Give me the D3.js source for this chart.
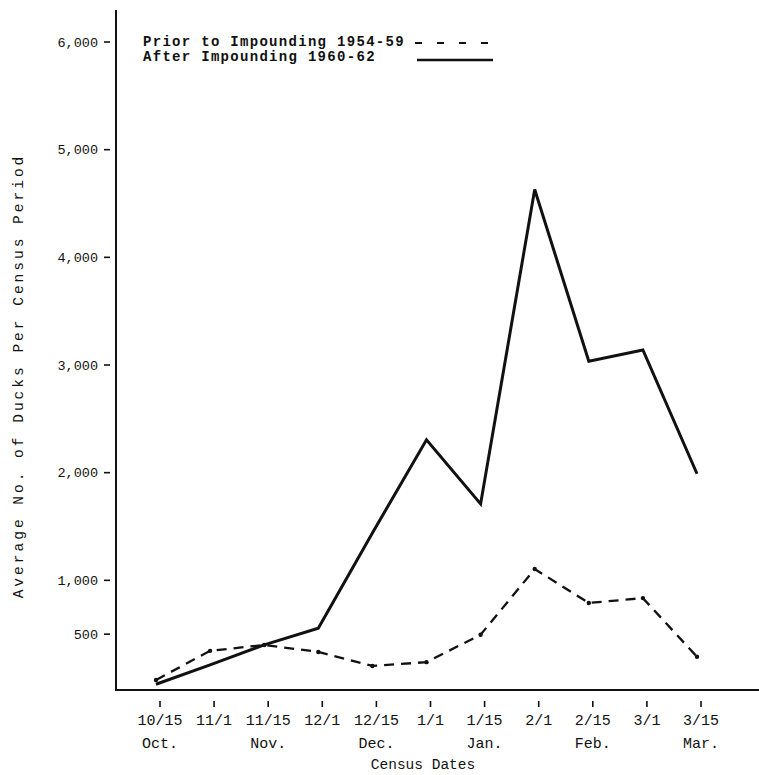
<!DOCTYPE html>
<html>
<head>
<meta charset="utf-8">
<script src="https://cdn.jsdelivr.net/npm/d3@7"></script>
<style>
  html, body { margin: 0; padding: 0; background: #fff; }
  svg { display: block; }
  text { font-family: "Liberation Mono", "Courier New", monospace; fill: #111; }
</style>
</head>
<body>
<svg id="chart" width="759" height="775"></svg>
<script>
// ---- data ----
const dates = ["10/15", "11/1", "11/15", "12/1", "12/15", "1/1", "1/15", "2/1", "2/15", "3/1", "3/15"];
const months = [
  { label: "Oct.", at: "10/15" },
  { label: "Nov.", at: "11/15" },
  { label: "Dec.", at: "12/15" },
  { label: "Jan.", at: "1/15" },
  { label: "Feb.", at: "2/15" },
  { label: "Mar.", at: "3/15" }
];
const priorValues = [75, 345, 400, 335, 205, 240, 495, 1105, 790, 835, 290];
const afterValues = [35, 215, 400, 555, 1440, 2305, 1710, 4630, 3035, 3140, 1990];
const yTickValues = [500, 1000, 2000, 3000, 4000, 5000, 6000];
const legendLabels = ["Prior to Impounding 1954-59", "After Impounding 1960-62"];
const yTitle = "Average No. of Ducks Per Census Period";
const xTitle = "Census Dates";

// ---- layout ----
const svg = d3.select("#chart");
const axisX = 116, axisY = 690;
const x = d3.scalePoint().domain(dates).range([160, 701]);
const y = d3.scaleLinear().domain([0, 6000]).range([688, 42]);
const dataShift = -4;

// axes lines
svg.append("line").attr("x1", axisX).attr("x2", axisX).attr("y1", 10).attr("y2", axisY + 1)
  .attr("stroke", "#111").attr("stroke-width", 2);
svg.append("line").attr("x1", axisX).attr("x2", 759).attr("y1", axisY).attr("y2", axisY)
  .attr("stroke", "#111").attr("stroke-width", 2);

// y ticks
const yt = svg.append("g");
yt.selectAll("line").data(yTickValues).join("line")
  .attr("x1", 104).attr("x2", 110)
  .attr("y1", d => y(d)).attr("y2", d => y(d))
  .attr("stroke", "#111").attr("stroke-width", 1.6);
yt.selectAll("text").data(yTickValues).join("text")
  .attr("x", 98).attr("y", d => y(d) + 4.5)
  .attr("text-anchor", "end").attr("font-size", 13.5)
  .text(d => d3.format(",")(d));

// x ticks
const xt = svg.append("g");
xt.selectAll("line").data(dates).join("line")
  .attr("x1", d => x(d)).attr("x2", d => x(d))
  .attr("y1", 701).attr("y2", 707)
  .attr("stroke", "#111").attr("stroke-width", 1.6);
xt.selectAll("text.tl").data(dates).join("text").attr("class", "tl")
  .attr("x", d => x(d)).attr("y", 725)
  .attr("text-anchor", "middle").attr("font-size", 15)
  .text(d => d);
xt.selectAll("text.ml").data(months).join("text").attr("class", "ml")
  .attr("x", d => x(d.at)).attr("y", 748)
  .attr("text-anchor", "middle").attr("font-size", 15)
  .text(d => d.label);

svg.append("text").attr("x", 423).attr("y", 769)
  .attr("text-anchor", "middle").attr("font-size", 14.5).text(xTitle);

svg.append("text")
  .attr("transform", "translate(23," + 376 + ") rotate(-90)")
  .attr("text-anchor", "middle").attr("font-size", 14.5)
  .attr("letter-spacing", 3)
  .text(yTitle);

// data lines
const plot = svg.append("g").attr("transform", "translate(" + dataShift + ",0)");
const line = d3.line().x((d, i) => x(dates[i])).y(d => y(d));

plot.append("path").datum(priorValues)
  .attr("d", line).attr("fill", "none").attr("stroke", "#111")
  .attr("stroke-width", 2.3).attr("stroke-dasharray", "10,7");
plot.selectAll("circle").data(priorValues).join("circle")
  .attr("cx", (d, i) => x(dates[i])).attr("cy", d => y(d)).attr("r", 2.2).attr("fill", "#111");

plot.append("path").datum(afterValues)
  .attr("d", line).attr("fill", "none").attr("stroke", "#111")
  .attr("stroke-width", 3).attr("stroke-linejoin", "miter");

// legend
const lg = svg.append("g");
lg.append("text").attr("x", 143).attr("y", 46).attr("font-size", 14).attr("font-weight", "bold")
  .attr("letter-spacing", 1.3).text(legendLabels[0]);
lg.append("text").attr("x", 143).attr("y", 61).attr("font-size", 14).attr("font-weight", "bold")
  .attr("letter-spacing", 1.3).text(legendLabels[1]);
lg.append("line").attr("x1", 415).attr("x2", 493).attr("y1", 43).attr("y2", 43)
  .attr("stroke", "#111").attr("stroke-width", 2.2).attr("stroke-dasharray", "7,15");
lg.append("line").attr("x1", 417).attr("x2", 493).attr("y1", 60).attr("y2", 60)
  .attr("stroke", "#111").attr("stroke-width", 2.5);
</script>
</body>
</html>
